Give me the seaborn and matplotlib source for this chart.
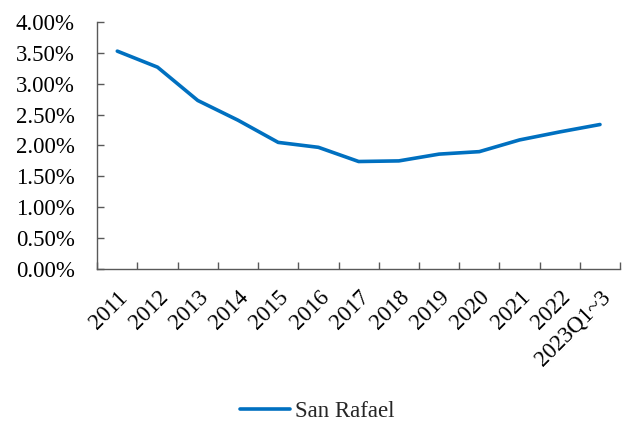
import numpy as np
import pandas as pd
import matplotlib
matplotlib.use("Agg")
import matplotlib.pyplot as plt
import seaborn as sns
from matplotlib.ticker import FuncFormatter

years = ["2011", "2012", "2013", "2014", "2015", "2016", "2017",
         "2018", "2019", "2020", "2021", "2022", "2023Q1~3"]
san_rafael = [3.53, 3.27, 2.73, 2.41, 2.05, 1.97, 1.74,
              1.75, 1.86, 1.90, 2.09, 2.22, 2.34]

sns.set_theme(style="white")
plt.rcParams['font.family'] = ['Liberation Serif', 'DejaVu Serif']

df = pd.DataFrame({"year": years, "rate": san_rafael, "series": "San Rafael"})
df["pos"] = np.arange(len(years))

fig = plt.figure(figsize=(6.27, 4.26), dpi=100)
ax = fig.add_axes([0.155, 0.369, 0.834, 0.579])

sns.lineplot(data=df, x="pos", y="rate", hue="series", palette=["#0070C0"],
             linewidth=2.6, ax=ax, legend=True)

ax.set_xlim(-0.5, len(years) - 0.5)
ax.set_ylim(0, 4)
ax.set_yticks(np.arange(0, 4.01, 0.5))
ax.yaxis.set_major_formatter(FuncFormatter(lambda v, p: f"{v:.2f}%"))

# tick marks between categories, labels at the centers
ax.set_xticks(np.arange(len(years)))
ax.set_xticklabels(years, rotation=45, ha="right", rotation_mode="anchor")
ax.set_xticks(np.arange(-0.5, len(years)), minor=True)
ax.tick_params(axis="x", which="major", bottom=False, length=0, pad=13,
               labelsize=16.5, colors="black")
ax.tick_params(axis="x", which="minor", bottom=True, length=5, direction="in",
               color="#595959", width=1)
ax.tick_params(axis="y", left=True, length=5, direction="in", color="#595959",
               width=1, labelsize=16.5, pad=16, labelcolor="black")

for s in ["top", "right"]:
    ax.spines[s].set_visible(False)
for s in ["left", "bottom"]:
    ax.spines[s].set_color("#595959")
    ax.spines[s].set_linewidth(1)

ax.set_xlabel("")
ax.set_ylabel("")

leg = ax.legend(loc="center", bbox_to_anchor=(0.42, -0.58), frameon=False,
                fontsize=16.5, handlelength=2.2, handletextpad=0.2)
for h in leg.get_lines():
    h.set_linewidth(2.6)

fig.savefig("out.png", dpi=100)
